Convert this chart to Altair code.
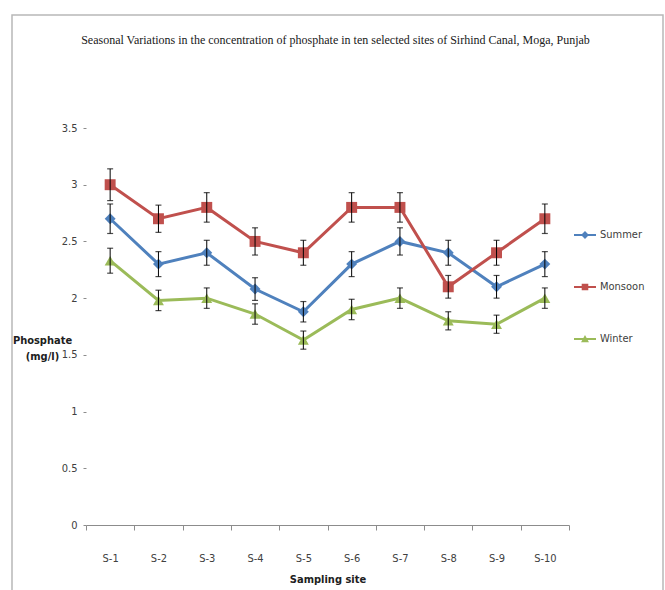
import altair as alt
import pandas as pd

sites = ["S-1", "S-2", "S-3", "S-4", "S-5", "S-6", "S-7", "S-8", "S-9", "S-10"]
seasons = ["Summer", "Monsoon", "Winter"]
summer = [2.70, 2.30, 2.40, 2.08, 1.88, 2.30, 2.50, 2.40, 2.10, 2.30]
monsoon = [3.00, 2.70, 2.80, 2.50, 2.40, 2.80, 2.80, 2.10, 2.40, 2.70]
winter = [2.33, 1.98, 2.00, 1.86, 1.63, 1.90, 2.00, 1.80, 1.77, 2.00]
summer_err = [0.13, 0.11, 0.11, 0.10, 0.09, 0.11, 0.12, 0.11, 0.10, 0.11]
monsoon_err = [0.14, 0.12, 0.13, 0.12, 0.11, 0.13, 0.13, 0.10, 0.11, 0.13]
winter_err = [0.11, 0.09, 0.09, 0.09, 0.08, 0.09, 0.09, 0.08, 0.08, 0.09]
colors = ["#4F81BD", "#C0504D", "#9BBB59"]
shapes = ["diamond", "square", "triangle-up"]
# legend glyphs: short line with the series marker in the middle
legend_shapes = [
    "M-1,-0.09H1V0.09H-1Z M0,-0.36L0.36,0L0,0.36L-0.36,0Z",
    "M-1,-0.09H1V0.09H-1Z M-0.3,-0.3H0.3V0.3H-0.3Z",
    "M-1,-0.09H1V0.09H-1Z M0,-0.36L0.36,0.3H-0.36Z",
]

rows = []
for season, vals, errs in zip(seasons, [summer, monsoon, winter], [summer_err, monsoon_err, winter_err]):
    for s, v, e in zip(sites, vals, errs):
        rows.append({"site": s, "season": season, "value": v, "lo": v - e, "hi": v + e})
df = pd.DataFrame(rows)

FONT = "Liberation Sans Narrow, DejaVu Sans Condensed, Liberation Sans"

x_enc = alt.X("site:N", sort=sites, scale=alt.Scale(paddingInner=0, paddingOuter=0),
              axis=alt.Axis(title="Sampling site", labelAngle=0, tickBand="extent", tickSize=5,
                            domainColor="#8c8c8c", tickColor="#8c8c8c", labelPadding=22,
                            labelFontSize=11, labelColor="#404040", labelFont=FONT,
                            titleFont=FONT, titleFontSize=11, titleFontWeight="bold",
                            titleColor="#202020", titlePadding=10, grid=False))
y_scale = alt.Scale(domain=[0, 3.5], nice=False)
y_axis = alt.Axis(title=["Phosphate", "(mg/l)"], values=[0, 0.5, 1, 1.5, 2, 2.5, 3, 3.5],
                  format=".1~f", domain=False, grid=False, tickSize=3, tickColor="#8c8c8c",
                  labelPadding=6, labelFontSize=11, labelColor="#404040", labelFont=FONT,
                  titleAngle=0, titleX=-44, titleY=206, titleAlign="center", titleBaseline="top",
                  titleFont=FONT, titleFontSize=11, titleFontWeight="bold", titleColor="#202020",
                  titleLineHeight=16)

base = alt.Chart(df)
color_scale = alt.Scale(domain=seasons, range=colors)

lines = base.mark_line(strokeWidth=3).encode(
    x=x_enc, y=alt.Y("value:Q", scale=y_scale, axis=y_axis),
    color=alt.Color("season:N", scale=color_scale, sort=seasons, legend=None),
)
points = base.mark_point(filled=True, size=120, opacity=1).encode(
    x=alt.X("site:N", sort=sites), y="value:Q",
    color=alt.Color("season:N", scale=color_scale, sort=seasons, legend=None),
    shape=alt.Shape("season:N", scale=alt.Scale(domain=seasons, range=shapes), sort=seasons,
                    legend=None),
)
err_rules = base.mark_rule(color="black", strokeWidth=1).encode(
    x=alt.X("site:N", sort=sites), y="lo:Q", y2="hi:Q")
err_lo = base.mark_tick(color="black", size=6, thickness=1.2).encode(
    x=alt.X("site:N", sort=sites), y="lo:Q")
err_hi = base.mark_tick(color="black", size=6, thickness=1.2).encode(
    x=alt.X("site:N", sort=sites), y="hi:Q")

frame = alt.Chart(pd.DataFrame({"a": [0]})).mark_rect(
    fill=None, stroke="#b8b8b8", strokeWidth=1.5, clip=False).encode(
    x=alt.value(-74), x2=alt.value(577), y=alt.value(-113), y2=alt.value(475))

legend = alt.Legend(title=None, orient="none", legendX=488, legendY=96,
                    labelFont=FONT, labelFontSize=11, labelColor="#404040",
                    rowPadding=36, symbolSize=484, symbolStrokeWidth=0)
legend_layer = base.transform_filter("datum.value < 0").mark_point(filled=True, opacity=1).encode(
    x=alt.X("site:N", sort=sites), y="value:Q",
    color=alt.Color("season:N", scale=alt.Scale(domain=seasons, range=colors), sort=seasons,
                    legend=legend),
    shape=alt.Shape("season:N", scale=alt.Scale(domain=seasons, range=legend_shapes),
                    sort=seasons, legend=legend),
)

main = alt.layer(frame, lines, points, err_rules, err_lo, err_hi)

chart = alt.layer(main, legend_layer).resolve_scale(
    color="independent", shape="independent").properties(
    width=483, height=397,
    title=alt.TitleParams(
        "Seasonal Variations in the concentration of phosphate in ten selected sites of Sirhind Canal, Moga, Punjab",
        font="Liberation Serif", fontSize=12, fontWeight="normal", color="#202020",
        anchor="middle", offset=-33, dx=8),
    autosize=alt.AutoSizeParams(type="none"),
    padding={"left": 86, "top": 128, "right": 96, "bottom": 65},
).configure(background="white").configure_view(stroke=None)

chart.save("out.html", embed_options={"renderer": "svg", "actions": False})
